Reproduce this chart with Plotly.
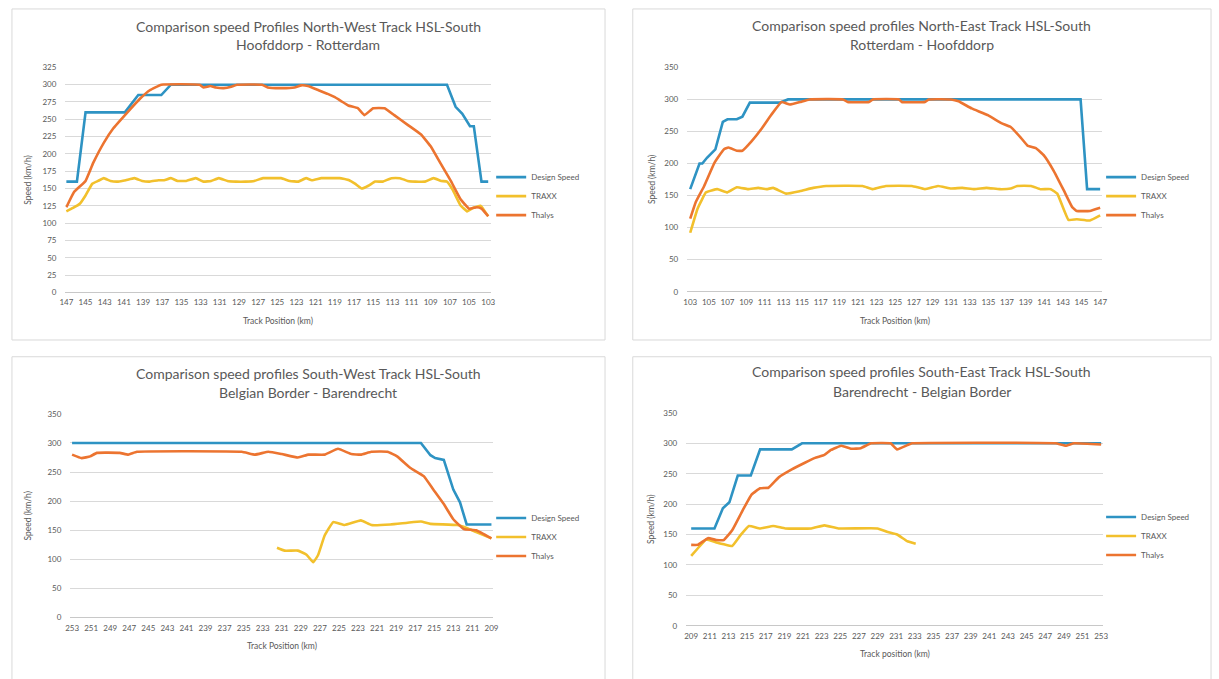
import plotly.graph_objects as go

# ---- Speed profile data (track position in km, speed in km/h) ----
# North-West Track HSL-South: Hoofddorp - Rotterdam
nw_design_km = [147, 145.9, 145.0, 140.9, 139.5, 137.1, 136.1, 107.3, 106.4, 105.7, 104.9, 104.5, 103.7, 103]
nw_design_v = [160, 160, 260, 260, 285, 285, 300, 300, 268, 258, 240, 240, 160, 160]
nw_traxx_km = [147, 146.3, 145.6, 145, 144.3, 143.7, 143.1, 142.4, 141.6, 140.8, 139.9, 139.1, 138.3, 137.4,
               136.8, 136.1, 135.4, 134.5, 133.5, 132.7, 131.9, 131.1, 130.2, 129.3, 128.3, 127.4, 126.5,
               125.6, 124.6, 123.7, 122.8, 122, 121.4, 120.4, 119.5, 118.5, 117.5, 116.9, 116.2, 115.5,
               114.8, 114, 113.1, 112.2, 111.4, 110.6, 109.6, 108.7, 107.9, 107.3, 106.7, 105.9, 105.2,
               104.6, 103.8, 103.4, 103]
nw_traxx_v = [117, 122, 128, 140, 157, 161, 165, 161, 160, 162, 165, 161, 160, 162,
              162, 165, 161, 161, 165, 160, 161, 165, 161, 160, 160, 161, 165,
              165, 165, 161, 160, 165, 162, 165, 165, 165, 162, 157, 150, 154,
              160, 160, 165, 165, 161, 160, 160, 165, 161, 160, 148, 126, 117,
              122, 125, 118, 110]
nw_thalys_km = [147, 146.2, 145, 144.2, 143.1, 142.1, 140.7, 139.3, 138.3, 137.1, 133.1, 132.7, 132, 131.4,
                130.6, 129.8, 129.2, 126.6, 126, 124.5, 123.2, 122.5, 121.8, 120.7, 119.8, 119, 118.3,
                117.6, 116.6, 115.9, 115, 113.8, 112.8, 111.4, 110, 109, 108, 106.9, 105.9, 105, 104.2,
                103.7, 103]
nw_thalys_v = [123, 145, 161, 187, 216, 237, 259, 280, 292, 300, 300, 296, 298, 296,
               295, 297, 300, 300, 296, 295, 296, 299, 298, 292, 287, 282, 276,
               270, 266, 256, 266, 266, 256, 242, 228, 211, 187, 161, 135, 121, 123,
               121, 110]

# North-East Track HSL-South: Rotterdam - Hoofddorp
ne_design_km = [103, 104, 104.3, 104.8, 105.7, 106.5, 107, 108, 108.6, 109.4, 112.6, 113.5, 144.9, 145.6, 147]
ne_design_v = [160, 200, 200, 209, 222, 265, 269, 269, 273, 295, 295, 300, 300, 160, 160]
ne_traxx_km = [103, 103.8, 104.7, 105.9, 107, 108, 109.2, 110.3, 111.2, 111.9, 113.3, 114.8, 116.2, 117.6,
               121.5, 122.6, 124, 126.8, 128.2, 129.6, 131, 132.2, 133.5, 134.8, 136.2, 137.4, 138.1,
               139.6, 140.6, 141.7, 142.4, 143.6, 144.5, 145.9, 147]
ne_traxx_v = [92, 130, 155, 160, 155, 163, 160, 162, 160, 162, 153, 157, 162, 165,
              165, 160, 165, 165, 160, 165, 161, 162, 160, 162, 160, 161, 165,
              165, 160, 160, 153, 112, 113, 111, 119]
ne_thalys_km = [103, 103.6, 104.5, 105.6, 106.6, 107.1, 108, 108.6, 109.6, 110.7, 111.7, 112.8, 113.7, 114.8,
                115.8, 119.4, 119.9, 122.2, 122.6, 125.4, 125.7, 128.2, 128.6, 131, 131.8, 133.2, 135,
                136.4, 137.4, 138.5, 139.2, 140.1, 141, 142, 143.1, 144, 144.5, 145.9, 147]
ne_thalys_v = [114, 140, 165, 201, 222, 225, 220, 220, 235, 255, 276, 296, 292, 296,
               300, 300, 296, 296, 300, 300, 296, 296, 300, 300, 297, 286, 275,
               263, 257, 240, 228, 224, 212, 189, 158, 132, 126, 126, 131]

# South-West Track HSL-South: Belgian Border - Barendrecht
sw_design_km = [253, 216.4, 215.4, 214.9, 214, 213, 212.3, 211.6, 209]
sw_design_v = [300, 300, 279, 274, 271, 220, 198, 160, 160]
sw_traxx_km = [231.5, 230.7, 229.3, 228.4, 227.7, 227.2, 226.5, 225.6, 224.4, 222.7, 221.6, 219.6, 217.8,
               216.4, 215.4, 212.6, 211.6, 210.6, 209]
sw_traxx_v = [120, 115, 115, 108, 95, 107, 141, 164, 159, 167, 159, 160, 163,
              165, 161, 159, 154, 147, 136]
sw_thalys_km = [253, 252, 251.1, 250.4, 248, 247.1, 246.2, 235.2, 233.8, 232.4, 231, 229.3, 228.2, 226.5,
                225.1, 223.7, 222.7, 221.6, 219.9, 218.9, 217.5, 216.1, 215.1, 214, 213, 211.9, 210.6, 209]
sw_thalys_v = [280, 274, 277, 283, 283, 280, 285, 285, 280, 285, 281, 275, 280, 280,
               290, 281, 280, 285, 285, 277, 257, 243, 220, 195, 169, 152, 150, 136]

# South-East Track HSL-South: Barendrecht - Belgian Border
se_design_km = [209, 211.5, 212.4, 213.1, 214, 215.4, 216.4, 219.8, 220.9, 253]
se_design_v = [160, 160, 193, 203, 247, 247, 290, 290, 300, 300]
se_traxx_km = [209, 209.7, 210.6, 211.7, 212.5, 213.4, 214.3, 215.2, 216.4, 217.8, 219.1, 221.9, 223.3,
               224.8, 229, 230.1, 231.1, 232.2, 233.1]
se_traxx_v = [115, 127, 142, 137, 134, 131, 149, 164, 160, 164, 160, 160, 165,
              160, 160, 154, 150, 139, 135]
se_thalys_km = [209, 209.7, 210.8, 211.7, 212.5, 213.4, 214.5, 215.5, 216.4, 217.3, 218.4, 219.8, 221.2,
                222.3, 223.3, 224, 225.1, 226.2, 227.2, 228.3, 230.4, 231.1, 232.2, 232.7, 248.1, 249.2,
                250.1, 253]
se_thalys_v = [133, 133, 144, 141, 141, 157, 189, 216, 226, 227, 244, 257, 268,
               276, 281, 289, 296, 291, 292, 300, 300, 290, 297, 300, 300, 296,
               300, 298]

series_names = ["Design Speed", "TRAXX", "Thalys"]
series_colors = ["#2E93C3", "#F2C02C", "#EC7430"]

W, H = 1219, 679
FONT = "Lato, 'Open Sans', sans-serif"
TEXT = "#595959"
GRID = "#D9D9D9"


def fx(px):
    return px / W


def fy(py):
    return 1 - py / H


# plot-area pixel boxes, axis ranges and texts of the four charts
panels = [
    dict(box=(60, 490, 63.3, 291.7), xr=[147.1, 102.69], yr=[0, 325], dy=25,
         data=[(nw_design_km, nw_design_v), (nw_traxx_km, nw_traxx_v), (nw_thalys_km, nw_thalys_v)],
         title=("Comparison speed Profiles North-West Track HSL-South", "Hoofddorp - Rotterdam"),
         frame=(6, 605, 4, 340), ttl_y=(22, 40), xt="Track Position (km)", xt_y=321, yt_x=22,
         leg=(490, 160)),
    dict(box=(688, 1107, 63.3, 291), xr=[102.68, 147.21], yr=[0, 350], dy=50,
         data=[(ne_design_km, ne_design_v), (ne_traxx_km, ne_traxx_v), (ne_thalys_km, ne_thalys_v)],
         title=("Comparison speed profiles North-East Track HSL-South", "Rotterdam - Hoofddorp"),
         frame=(633, 1217, 4, 340), ttl_y=(21, 40), xt="Track Position (km)", xt_y=321, yt_x=652,
         leg=(1106, 160)),
    dict(box=(65, 492, 415, 621.7), xr=[253.18, 208.82], yr=[0, 350], dy=50,
         data=[(sw_design_km, sw_design_v), (sw_traxx_km, sw_traxx_v), (sw_thalys_km, sw_thalys_v)],
         title=("Comparison speed profiles South-West Track HSL-South", "Belgian Border - Barendrecht"),
         frame=(6, 605, 357, 690), ttl_y=(374, 393), xt="Track Position (km)", xt_y=651, yt_x=22,
         leg=(490, 506)),
    dict(box=(687, 1108, 414, 630), xr=[208.47, 253.21], yr=[0, 350], dy=50,
         data=[(se_design_km, se_design_v), (se_traxx_km, se_traxx_v), (se_thalys_km, se_thalys_v)],
         title=("Comparison speed profiles South-East Track HSL-South", "Barendrecht - Belgian Border"),
         frame=(633, 1217, 357, 690), ttl_y=(372, 392), xt="Track position (km)", xt_y=659, yt_x=652,
         leg=(1106, 505)),
]

fig = go.Figure()
layout = dict(
    width=W, height=H, margin=dict(l=0, r=0, t=0, b=0),
    paper_bgcolor="white", plot_bgcolor="white",
    font=dict(family=FONT, color=TEXT, size=8),
    shapes=[], annotations=[],
)

for i, p in enumerate(panels):
    n = i + 1
    sfx = "" if n == 1 else str(n)
    x0, x1, yt, yb = p["box"]
    leg_name = "legend" + sfx

    for (xs, ys), name, col in zip(p["data"], series_names, series_colors):
        fig.add_trace(go.Scatter(
            x=xs, y=ys, mode="lines", name=name,
            line=dict(color=col, width=2.6, shape="linear" if name == "Design Speed" else "spline",
                      smoothing=0.3),
            xaxis="x" + sfx, yaxis="y" + sfx, legend=leg_name,
            hoverinfo="skip",
        ))

    lo, hi = min(p["xr"]), max(p["xr"])
    start = int(round(lo + 0.5))
    layout["xaxis" + sfx] = dict(
        domain=[fx(x0), fx(x1)], range=p["xr"], anchor="y" + sfx,
        tickmode="linear", tick0=start, dtick=2,
        showgrid=False, zeroline=False, showline=False, ticks="",
        tickfont=dict(size=8, color=TEXT), ticklabelstandoff=4, fixedrange=True,
    )
    layout["yaxis" + sfx] = dict(
        domain=[fy(yb), fy(yt)], range=p["yr"], anchor="x" + sfx,
        tickmode="linear", tick0=0, dtick=p["dy"],
        showgrid=True, gridcolor=GRID, gridwidth=1,
        zeroline=True, zerolinecolor="#C8C8C8", zerolinewidth=1.2,
        showline=False, ticks="", tickfont=dict(size=8, color=TEXT),
        ticklabelstandoff=8, fixedrange=True,
    )
    lx, ly = p["leg"]
    layout[leg_name] = dict(
        x=fx(lx), y=fy(ly), xanchor="left", yanchor="top",
        bgcolor="rgba(0,0,0,0)", font=dict(size=8, color=TEXT),
        itemwidth=30, tracegroupgap=0,
    )

    fl, fr, ft, fb = p["frame"]
    layout["shapes"].append(dict(
        type="rect", xref="paper", yref="paper",
        x0=fx(fl), x1=fx(fr), y0=fy(fb), y1=fy(ft),
        line=dict(color="#D9D9D9", width=1), fillcolor="rgba(0,0,0,0)", layer="below",
    ))

    cx = (fl + fr) / 2
    for txt, ty in zip(p["title"], p["ttl_y"]):
        layout["annotations"].append(dict(
            text=txt, x=fx(cx), y=fy(ty), xref="paper", yref="paper",
            xanchor="center", yanchor="middle", showarrow=False,
            font=dict(size=14, color=TEXT, family=FONT),
        ))
    layout["annotations"].append(dict(
        text=p["xt"], x=fx((x0 + x1) / 2), y=fy(p["xt_y"]), xref="paper", yref="paper",
        xanchor="center", yanchor="middle", showarrow=False,
        font=dict(size=8.5, color=TEXT, family=FONT),
    ))
    layout["annotations"].append(dict(
        text="Speed (km/h)", x=fx(p["yt_x"]), y=fy((yt + yb) / 2), xref="paper", yref="paper",
        xanchor="center", yanchor="middle", showarrow=False, textangle=-90,
        font=dict(size=8.5, color=TEXT, family=FONT),
    ))

fig.update_layout(**layout)
fig.write_html("out.html")
